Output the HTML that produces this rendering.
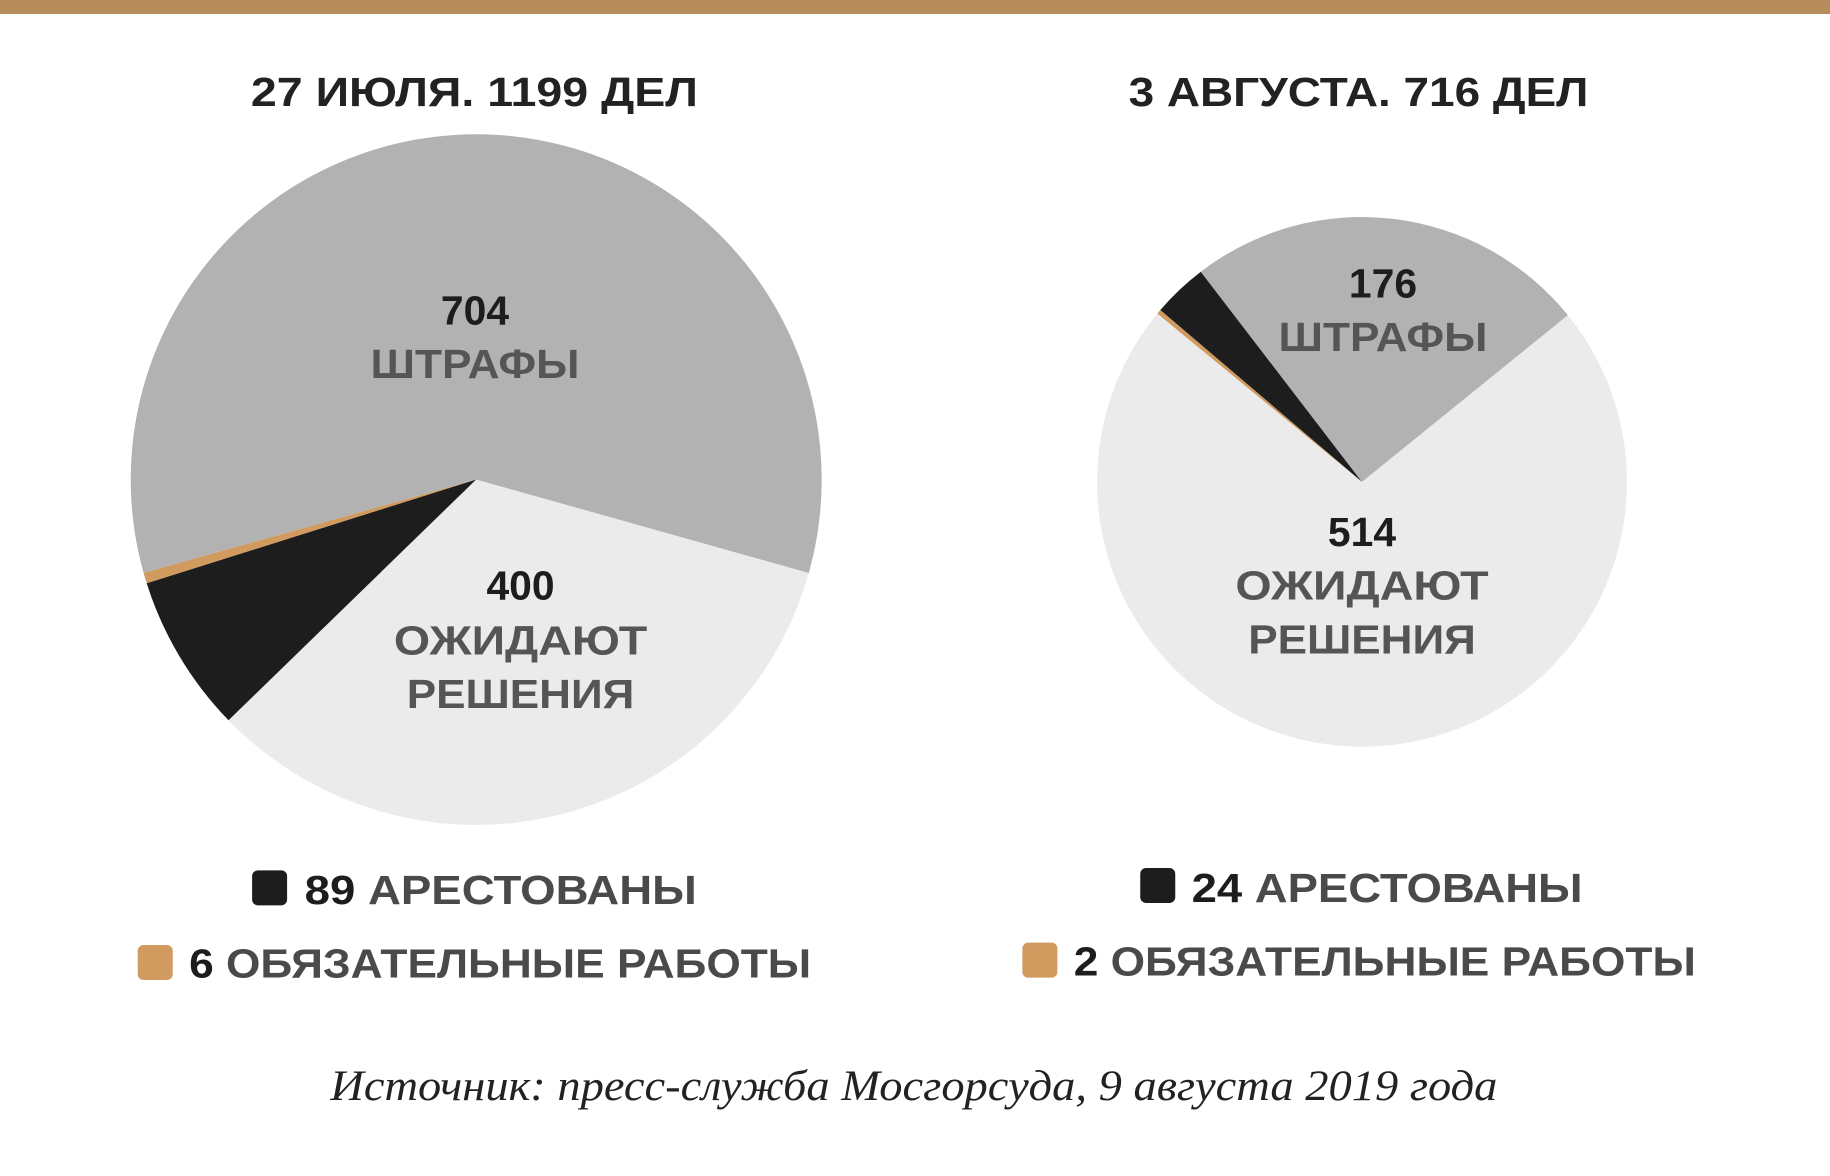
<!DOCTYPE html>
<html><head><meta charset="utf-8"><style>
html,body{margin:0;padding:0;background:#fff;}
svg{display:block}
</style></head><body>
<svg width="1830" height="1176" viewBox="0 0 1568 1008" preserveAspectRatio="none" xmlns="http://www.w3.org/2000/svg">
<rect x="0" y="0" width="1568" height="12" fill="#b78c5d"/>
<g font-family="'Liberation Sans','DejaVu Sans',sans-serif" font-weight="bold">
<text x="215" y="91" font-size="35" fill="#222" textLength="383" lengthAdjust="spacingAndGlyphs">27 ИЮЛЯ. 1199 ДЕЛ</text>
<text x="967" y="91" font-size="35" fill="#222" textLength="394" lengthAdjust="spacingAndGlyphs">3 АВГУСТА. 716 ДЕЛ</text>
</g>
<path d="M408 411 L693.0 491.1 A296 296 0 0 1 195.8 617.4 Z" fill="#ebebeb"/>
<path d="M408 411 L195.8 617.4 A296 296 0 0 1 125.7 499.9 Z" fill="#1d1d1d"/>
<path d="M408 411 L125.7 499.9 A296 296 0 0 1 123.0 491.0 Z" fill="#d19a5e"/>
<path d="M408 411 L123.0 491.0 A296 296 0 1 1 693.0 491.1 Z" fill="#b2b2b2"/>
<path d="M1167 413 L1343.4 270.1 A227 227 0 1 1 991.7 268.8 Z" fill="#ebebeb"/>
<path d="M1167 413 L991.7 268.8 A227 227 0 0 1 994.2 265.7 Z" fill="#d19a5e"/>
<path d="M1167 413 L994.2 265.7 A227 227 0 0 1 1028.9 232.9 Z" fill="#1d1d1d"/>
<path d="M1167 413 L1028.9 232.9 A227 227 0 0 1 1343.4 270.1 Z" fill="#b2b2b2"/>
<g font-family="'Liberation Sans','DejaVu Sans',sans-serif" font-weight="bold" font-size="35" text-anchor="middle">
<text x="407" y="278" fill="#1d1d1d">704</text>
<text x="407" y="324" fill="#555" textLength="179" lengthAdjust="spacingAndGlyphs">ШТРАФЫ</text>
<text x="446" y="514" fill="#1d1d1d">400</text>
<text x="446" y="561" fill="#555" textLength="217" lengthAdjust="spacingAndGlyphs">ОЖИДАЮТ</text>
<text x="446" y="607" fill="#555" textLength="195" lengthAdjust="spacingAndGlyphs">РЕШЕНИЯ</text>
<text x="1185" y="255" fill="#1d1d1d">176</text>
<text x="1185" y="301" fill="#555" textLength="179" lengthAdjust="spacingAndGlyphs">ШТРАФЫ</text>
<text x="1167" y="468" fill="#1d1d1d">514</text>
<text x="1167" y="514" fill="#555" textLength="217" lengthAdjust="spacingAndGlyphs">ОЖИДАЮТ</text>
<text x="1167" y="560" fill="#555" textLength="195" lengthAdjust="spacingAndGlyphs">РЕШЕНИЯ</text>
</g>
<rect x="216" y="746" width="30" height="30" rx="5" fill="#1d1d1d"/>
<rect x="118" y="810" width="30" height="30" rx="5" fill="#d19a5e"/>
<rect x="977" y="744" width="30" height="30" rx="5" fill="#1d1d1d"/>
<rect x="876" y="808" width="30" height="30" rx="5" fill="#d19a5e"/>
<g font-family="'Liberation Sans','DejaVu Sans',sans-serif" font-weight="bold" font-size="35" fill="#4a4a4a">
<text x="261" y="775" textLength="336" lengthAdjust="spacingAndGlyphs"><tspan fill="#1d1d1d">89</tspan> АРЕСТОВАНЫ</text>
<text x="162" y="838" textLength="533" lengthAdjust="spacingAndGlyphs"><tspan fill="#1d1d1d">6</tspan> ОБЯЗАТЕЛЬНЫЕ РАБОТЫ</text>
<text x="1021" y="773" textLength="335" lengthAdjust="spacingAndGlyphs"><tspan fill="#1d1d1d">24</tspan> АРЕСТОВАНЫ</text>
<text x="920" y="836" textLength="533" lengthAdjust="spacingAndGlyphs"><tspan fill="#1d1d1d">2</tspan> ОБЯЗАТЕЛЬНЫЕ РАБОТЫ</text>
</g>
<text x="283" y="943" font-family="'Liberation Serif','DejaVu Serif',serif" font-style="italic" font-size="37" fill="#222" textLength="1000" lengthAdjust="spacingAndGlyphs">Источник: пресс-служба Мосгорсуда, 9 августа 2019 года</text>
</svg>
</body></html>
